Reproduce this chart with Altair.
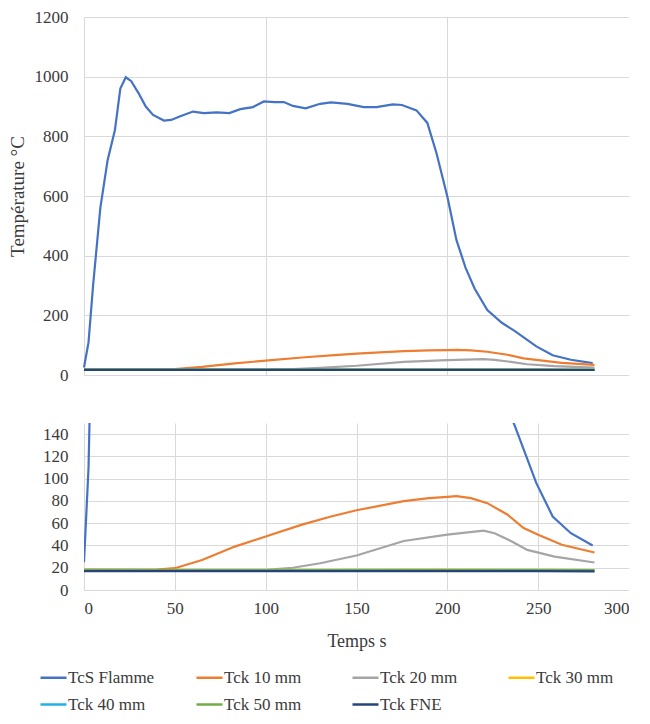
import altair as alt
import pandas as pd

# ---- data ----
series_names = ["TcS Flamme", "Tck 10 mm", "Tck 20 mm", "Tck 30 mm",
                "Tck 40 mm", "Tck 50 mm", "Tck FNE"]
series_colors = ["#4472C4", "#ED7D31", "#A5A5A5", "#FFC000",
                 "#1FB0EA", "#70AD47", "#264478"]

flamme_t = [0, 2.5, 5, 9, 13, 17, 20, 23, 26, 30, 34, 38, 44, 48, 53, 60, 66, 73,
            80, 86, 93, 99, 105, 110, 115, 122, 130, 136, 145, 154, 161, 170, 175,
            183, 189, 194, 200, 205, 210, 215, 222, 230, 237, 249, 258, 268, 280]
flamme_v = [25, 110, 300, 560, 720, 820, 960, 998, 985, 945, 900, 872, 853, 855,
            867, 883, 878, 880, 878, 891, 898, 917, 915, 915, 902, 894, 909, 914,
            909, 898, 898, 907, 905, 887, 845, 744, 598, 453, 360, 290, 218, 175,
            148, 96, 66, 51, 40]

tck10_t = [0, 20, 40, 50, 65, 83, 100, 120, 136, 150, 176, 190, 200, 205, 213,
           222, 233, 242, 250, 263, 281]
tck10_v = [18, 18, 18.3, 19.6, 27, 39, 48, 58.7, 66, 71.6, 79.8, 82.5, 83.7, 84.3,
           82.5, 78, 67.8, 55.7, 49.7, 40.6, 33.7]

tck20_t = [0, 50, 100, 115, 130, 150, 176, 200, 210, 220, 226, 235, 244, 259, 281]
tck20_v = [18, 18, 18.2, 20, 24, 31, 44, 49.7, 51.5, 53.3, 51, 44, 36, 30, 24.7]

flat_t = [0, 50, 100, 150, 200, 250, 281]
tck30_v = [17.5, 17.5, 17.6, 17.8, 18.0, 17.8, 17.5]
tck40_v = [17.3, 17.3, 17.4, 17.5, 17.6, 17.5, 17.3]
tck50_v = [18.0, 17.8, 17.9, 18.0, 18.2, 18.0, 17.8]
fne_v = [17.0, 17.0, 17.0, 17.0, 17.0, 16.9, 16.8]

top_y_ticks = [0, 200, 400, 600, 800, 1000, 1200]
bottom_y_ticks = [0, 20, 40, 60, 80, 100, 120, 140]
top_x_grid = [0, 100, 200, 300]
bottom_x_ticks = [0, 50, 100, 150, 200, 250, 300]

# ---- build table ----
rows = []
def add(name, ts, vs):
    for i, (t, v) in enumerate(zip(ts, vs)):
        rows.append({"serie": name, "t": t, "v": v, "k": i})

add("TcS Flamme", flamme_t, flamme_v)
add("Tck 10 mm", tck10_t, tck10_v)
add("Tck 20 mm", tck20_t, tck20_v)
add("Tck 30 mm", flat_t, tck30_v)
add("Tck 40 mm", flat_t, tck40_v)
add("Tck 50 mm", flat_t, tck50_v)
add("Tck FNE", flat_t, fne_v)
df = pd.DataFrame(rows)

FONT = "Liberation Serif"
TXT = "#3a3a3a"
GRID = "#d9d9d9"

color = alt.Color(
    "serie:N",
    scale=alt.Scale(domain=series_names, range=series_colors),
    sort=series_names,
    legend=alt.Legend(
        title=None, orient="none", direction="horizontal", columns=4,
        legendX=-45, legendY=646,
        symbolType="stroke", symbolSize=676, symbolStrokeWidth=2.5,
        labelFont=FONT, labelFontSize=17, labelColor=TXT, labelOffset=0,
        gridAlign="all", columnPadding=36, rowPadding=4, labelLimit=200,
    ),
)

top = alt.Chart(df).mark_line(strokeWidth=2.2).encode(
    x=alt.X("t:Q", scale=alt.Scale(domain=[0, 300], nice=False),
            axis=alt.Axis(values=top_x_grid, labels=False, ticks=False, title=None,
                          domainColor=GRID, gridColor=GRID)),
    y=alt.Y("v:Q", scale=alt.Scale(domain=[0, 1200], nice=False),
            axis=alt.Axis(values=top_y_ticks, format="d", title="Température °C",
                          ticks=False, domain=False, gridColor=GRID, labelPadding=16,
                          titlePadding=7, titleFontSize=19)),
    color=color,
    order="k:Q",
).properties(width=545, height=358)

bottom = alt.Chart(df).mark_line(strokeWidth=2.2, clip=True).encode(
    x=alt.X("t:Q", scale=alt.Scale(domain=[0, 300], nice=False),
            axis=alt.Axis(values=bottom_x_ticks, format="d", title="Temps s",
                          ticks=False, domainColor=GRID, gridColor=GRID,
                          labelPadding=10, titlePadding=16, titleFontSize=18)),
    y=alt.Y("v:Q", scale=alt.Scale(domain=[0, 150], nice=False),
            axis=alt.Axis(values=bottom_y_ticks, format="d", title=None, ticks=False,
                          domain=False, gridColor=GRID, labelPadding=16)),
    color=color,
    order="k:Q",
).properties(width=545, height=167)

chart = alt.vconcat(top, bottom, spacing=40).properties(
    padding=0,
).configure(
    font=FONT,
).configure_axis(
    labelFont=FONT, labelFontSize=17, labelColor=TXT,
    titleFont=FONT, titleColor=TXT, titleFontWeight="normal",
).configure_legend(
    labelFont=FONT, labelFontSize=17, labelColor=TXT,
).configure_view(stroke=None)

chart.save("out.html", embed_options={"renderer": "svg", "actions": False})
